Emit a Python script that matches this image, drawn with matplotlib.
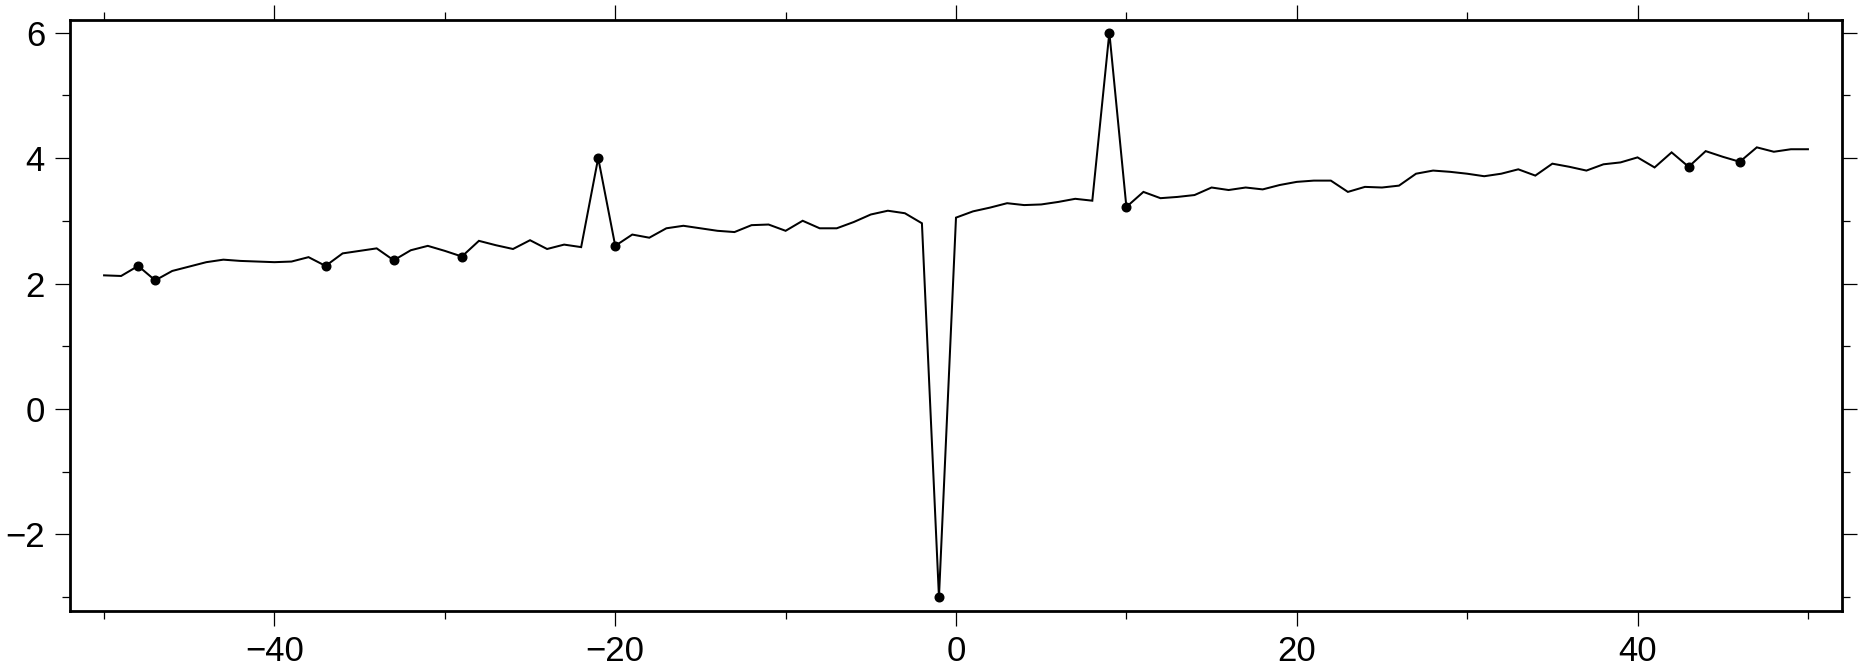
import matplotlib
matplotlib.use("Agg")
import matplotlib.pyplot as plt
from matplotlib.ticker import MultipleLocator
import numpy as np

# x positions (integers -50..50)
x_values = list(range(-50, 51))
# y values
y_values = [
    2.13, 2.12, 2.28, 2.05, 2.20, 2.27, 2.34, 2.38, 2.36, 2.35,   # -50..-41
    2.34, 2.35, 2.42, 2.28, 2.48, 2.52, 2.56, 2.37, 2.53, 2.60,   # -40..-31
    2.52, 2.43, 2.68, 2.61, 2.55, 2.69, 2.55, 2.62, 2.58, 4.00,   # -30..-21
    2.60, 2.78, 2.73, 2.88, 2.92, 2.88, 2.84, 2.82, 2.93, 2.94,   # -20..-11
    2.84, 3.00, 2.88, 2.88, 2.98, 3.10, 3.16, 3.12, 2.96, -3.00,  # -10..-1
    3.05, 3.15, 3.21, 3.28, 3.25, 3.26, 3.30, 3.35, 3.32, 6.00,   # 0..9
    3.22, 3.46, 3.36, 3.38, 3.41, 3.53, 3.49, 3.53, 3.50, 3.57,   # 10..19
    3.62, 3.64, 3.64, 3.46, 3.54, 3.53, 3.56, 3.75, 3.80, 3.78,   # 20..29
    3.75, 3.71, 3.75, 3.82, 3.72, 3.91, 3.86, 3.80, 3.90, 3.93,   # 30..39
    4.01, 3.85, 4.09, 3.86, 4.11, 4.02, 3.94, 4.17, 4.10, 4.14,   # 40..49
    4.14,                                                         # 50
]
# x positions of highlighted points
marker_x = [-48, -47, -37, -33, -29, -21, -20, -1, 9, 10, 43, 46]
marker_y = [y_values[x_values.index(v)] for v in marker_x]

x_ticks_major = [-40, -20, 0, 20, 40]
y_ticks_major = [-2, 0, 2, 4, 6]

plt.rcParams['font.family'] = ['Liberation Sans', 'DejaVu Sans']

W, H = 1863, 668
fig = plt.figure(figsize=(W / 100, H / 100), dpi=100)
left, right, top, bottom = 70, 1842, 20, 611
ax = fig.add_axes([left / W, 1 - bottom / H, (right - left) / W, (bottom - top) / H])

ax.plot(x_values, y_values, color='black', lw=1.45, solid_joinstyle='miter', zorder=2)
ax.plot(marker_x, marker_y, 'o', color='black', ms=6.2, zorder=3)

ax.set_xlim(-52, 52)
ax.set_ylim(-3.22, 6.2)

ax.xaxis.set_major_locator(MultipleLocator(20))
ax.xaxis.set_minor_locator(MultipleLocator(10))
ax.yaxis.set_major_locator(MultipleLocator(2))
ax.yaxis.set_minor_locator(MultipleLocator(1))
ax.set_xticks(x_ticks_major)
ax.set_yticks(y_ticks_major)

for s in ax.spines.values():
    s.set_linewidth(2.0)
    s.set_color('black')

ax.tick_params(which='both', direction='out', top=True, right=True,
               labeltop=False, labelright=False, color='black')
ax.tick_params(which='major', length=11, width=0.9, labelsize=25, pad=6)
ax.tick_params(which='minor', length=5.8, width=0.9)
ax.tick_params(axis='y', which='major', pad=7)

fig.savefig('out.png', dpi=100, facecolor='white')
